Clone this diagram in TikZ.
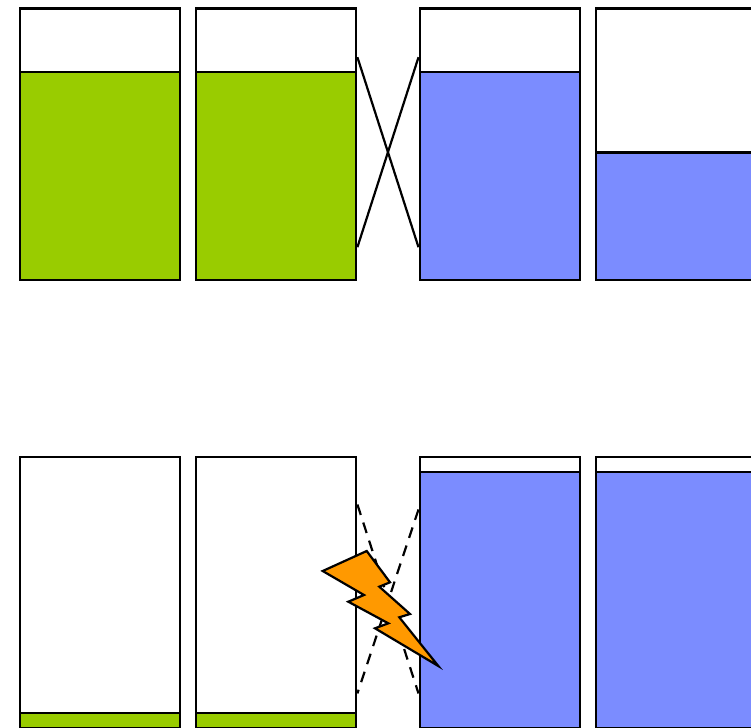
\documentclass[tikz,border=0pt]{standalone}
\usepackage{tikz}
\usepackage[rgb]{xcolor}
\definecolor{tankgreen}{HTML}{99CC00}
\definecolor{tankblue}{HTML}{7B8CFF}
\definecolor{boltorange}{HTML}{FF9900}

\begin{document}
\begin{tikzpicture}[
			x=1pt,
			y=-1pt, % Same axes as the pixels of the page
			every node/.style={
					draw=black,
					line width=2.4pt,
					anchor=north west,
					inner sep=0pt,
					minimum width=160.5pt
				},
			tank/.style={minimum height=271.5pt},
			pipe/.style={line width=2.2pt}
		]
		\clip (0, 0) rectangle (751, 727);

		% Upper row
		\node[fill=tankgreen, minimum height=208pt] (levelA) at (18.5, 71) {};
		\node[fill=tankgreen, minimum height=208pt] (levelB) at (194.5, 71) {};
		\node[fill=tankblue, minimum height=208pt] (levelC) at (418.5, 71) {};
		\node[fill=tankblue, minimum height=127.5pt] (levelD) at (595, 151.5) {};

		\node[tank] (tankA) at (18.5, 7.5) {};
		\node[tank] (tankB) at (194.5, 7.5) {};
		\node[tank] (tankC) at (418.5, 7.5) {};
		\node[tank] (tankD) at (595, 7.5) {};

		\draw[pipe] ([yshift=87.25pt]tankB.east) -- ([yshift=-102.75pt]tankC.west);
		\draw[pipe] ([yshift=87.25pt]tankC.west) -- ([yshift=-102.75pt]tankB.east);

		% Lower row
		\node[fill=tankgreen, minimum height=15.5pt] (lowA) at (18.5, 711.5) {};
		\node[fill=tankgreen, minimum height=15.5pt] (lowB) at (194.5, 711.5) {};
		\node[fill=tankblue, minimum height=256pt] (lowC) at (418.5, 471) {};
		\node[fill=tankblue, minimum height=256pt] (lowD) at (595, 471) {};

		\node[tank] (tankE) at (18.5, 455.5) {};
		\node[tank] (tankF) at (194.5, 455.5) {};
		\node[tank] (tankG) at (418.5, 455.5) {};
		\node[tank] (tankH) at (595, 455.5) {};

		\draw[pipe, dash pattern=on 11pt off 8pt] ([yshift=88pt]tankF.east) -- ([yshift=-101pt]tankG.west);
		\draw[pipe, dash pattern=on 11pt off 8pt] ([yshift=83pt]tankG.west) -- ([yshift=-101pt]tankF.east);

		% Bolt over the broken pipes
		\draw[fill=boltorange, line width=2.2pt, miter limit=10]
		(366.7, 551) -- (322.7, 571) -- (364, 595) -- (348.3, 601.7) --
		(388.3, 623.3) -- (375, 628.3) -- (438.3, 666) -- (399.3, 617.3) --
		(410, 614) -- (379.3, 586.7) -- (390, 582.3) -- cycle;
	\end{tikzpicture}
\end{document}
